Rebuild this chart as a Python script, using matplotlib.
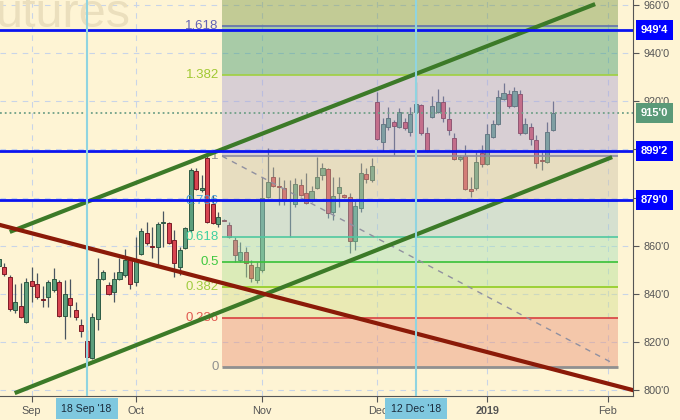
import numpy as np
import matplotlib.pyplot as plt
from matplotlib.transforms import blended_transform_factory

plt.rcParams['font.family'] = ['Liberation Sans', 'DejaVu Sans']

# daily bars, first one is 24 Aug 2018 (bar index -1)
first_bar = -1
opens = [851.5, 851.1, 847.0, 833.2, 834.9, 828.2, 845.3, 844.0, 837.8, 838.6,
         841.5, 844.9, 830.7, 838.2, 833.2, 827.0, 820.3, 813.3, 829.5, 846.1,
         843.6, 840.7, 846.1, 847.8, 854.4, 844.9, 856.5, 865.2, 859.8, 859.4,
         869.4, 869.4, 862.3, 851.1, 859.0, 866.5, 891.0, 883.1, 896.4, 877.3,
         869.0, 870.8, 868.6, 862.3, 854.0, 857.3, 851.9, 845.7, 849.9, 880.2,
         888.5, 884.4, 883.9, 878.5, 877.3, 885.2, 881.9, 878.5, 883.9, 889.3,
         891.8, 874.0, 881.9, 881.0, 880.2, 861.9, 875.6, 889.8, 887.3, 919.7,
         903.1, 909.3, 911.4, 909.3, 911.4, 907.2, 915.5, 918.4, 906.8, 913.5,
         915.5, 919.7, 912.6, 904.7, 896.0, 897.2, 883.5, 883.9, 898.5, 893.9,
         905.1, 910.5, 920.9, 923.0, 918.0, 923.0, 906.8, 909.3, 903.9, 895.4,
         894.7, 908.0]
highs = [856.5, 852.8, 847.8, 844.0, 844.5, 846.5, 851.1, 848.6, 843.2, 845.7,
         850.7, 845.7, 845.7, 846.1, 836.6, 829.5, 824.9, 832.0, 854.8, 849.9,
         844.9, 849.0, 854.8, 858.6, 855.3, 863.6, 867.3, 869.8, 867.7, 869.8,
         874.4, 869.8, 866.5, 859.4, 867.7, 892.3, 892.3, 889.3, 897.2, 881.0,
         874.0, 871.1, 869.8, 863.6, 861.5, 859.4, 854.0, 853.2, 888.5, 900.6,
         892.7, 888.5, 887.3, 887.3, 888.1, 887.7, 890.2, 884.8, 896.8, 894.3,
         892.3, 888.5, 888.5, 881.5, 881.9, 879.0, 894.3, 892.3, 896.4, 923.8,
         913.0, 917.6, 912.2, 917.2, 913.0, 917.6, 928.0, 918.9, 909.3, 922.2,
         925.1, 922.2, 917.6, 906.8, 897.7, 901.8, 888.5, 898.9, 901.8, 910.5,
         912.2, 924.7, 927.6, 924.7, 925.9, 924.7, 913.0, 911.0, 906.0, 899.3,
         911.4, 920.1]
lows = [850.5, 847.4, 832.8, 832.0, 829.9, 828.0, 836.6, 837.8, 834.5, 834.5,
        840.7, 830.3, 821.2, 830.3, 829.1, 822.0, 811.6, 812.9, 824.9, 845.7,
        839.5, 836.6, 845.7, 847.0, 842.0, 843.2, 856.1, 860.3, 854.8, 851.9,
        859.4, 860.7, 847.0, 847.8, 858.6, 865.7, 883.1, 882.3, 869.4, 869.0,
        867.7, 870.2, 863.2, 853.2, 853.2, 847.0, 844.9, 844.5, 849.0, 879.8,
        884.4, 876.9, 876.9, 863.6, 876.0, 880.6, 877.3, 878.1, 883.5, 887.3,
        871.5, 870.6, 876.0, 879.8, 856.9, 858.2, 874.0, 886.0, 886.4, 903.9,
        899.3, 908.0, 897.5, 908.9, 908.0, 905.6, 915.1, 906.0, 898.9, 913.0,
        915.1, 911.4, 906.0, 895.6, 895.2, 883.1, 880.2, 883.1, 892.7, 893.5,
        904.7, 910.1, 920.5, 917.2, 917.6, 906.0, 906.4, 901.8, 892.3, 891.4,
        894.3, 907.6]
closes = [854.5, 848.2, 833.7, 836.6, 830.3, 844.9, 843.2, 838.6, 837.4, 844.9,
          846.1, 830.7, 839.9, 835.3, 830.3, 824.5, 813.7, 830.3, 846.1, 849.0,
          839.9, 846.1, 849.0, 854.0, 844.0, 854.4, 866.1, 861.1, 859.4, 869.0,
          869.8, 861.1, 852.8, 858.2, 867.3, 891.4, 883.5, 883.9, 869.8, 869.4,
          871.9, 870.4, 863.6, 856.1, 857.3, 852.8, 846.5, 851.1, 879.8, 886.4,
          884.8, 884.2, 878.5, 879.4, 885.6, 881.0, 877.7, 882.7, 888.5, 892.3,
          873.6, 880.6, 884.4, 880.2, 861.9, 876.5, 890.2, 887.7, 893.1, 904.3,
          910.5, 913.0, 909.7, 915.5, 908.9, 914.7, 918.9, 906.8, 899.3, 918.0,
          919.7, 913.0, 908.0, 896.0, 896.8, 883.5, 882.9, 894.7, 893.9, 906.4,
          910.5, 921.8, 923.4, 918.0, 924.3, 906.8, 910.5, 904.3, 894.3, 895.2,
          907.2, 915.0]

month_pos = [5, 24, 47, 68, 88, 110]
month_labels = ['Sep', 'Oct', 'Nov', 'Dec', '2019', 'Feb']
marked_pos = [15, 75]
marked_labels = ["18 Sep '18", "12 Dec '18"]

level_prices = [949.5, 899.25, 879.0]
level_labels = ["949'4", "899'2", "879'0"]
last_price = 915.0
last_label = "915'0"

fib_low, fib_high = 809.4, 897.2
fib_ratios = [0, 0.236, 0.382, 0.5, 0.618, 0.786, 1, 1.382, 1.618, 2.2]
fib_start, fib_end = 39.7, 111.9
fib_diag_x, fib_diag_y = [39.7, 111.2], [897.2, 810.8]

upper_x, upper_y = [1.0, 107.7], [865.7, 960.4]
lower_x, lower_y = [1.9, 110.8], [798.7, 896.8]
red_x, red_y = [-0.8, 114.5], [868.6, 800.0]

zone_colors = ['#e89277', '#d2de8d', '#b2e296', '#a5e0b9', '#a5c8cb',
               '#cdc3a8', '#aaa2d4', '#3f9b72', '#79994a']
line_colors = ['#909090', '#d84040', '#90cc20', '#38c038', '#50c8a0',
               '#5090d0', '#8c8ca0', '#a0d040', '#6070b0']
label_colors = ['#909090', '#e05a50', '#a0cc40', '#40c840', '#40d0a0',
                '#4aa0dc', '#909090', '#a0c832', '#6464b4']

fig = plt.figure(figsize=(6.8, 4.2), dpi=100, facecolor='#fef4d4')
ax = fig.add_axes([0, 24 / 420, 633 / 680, 396 / 420])
ax.set_facecolor('#fef4d4')
ax.set_xlim(-0.78, 114.6)
ax.set_ylim(797.5, 962.1)

ax.grid(True, ls=(0, (5, 5)), color='#c8d4e8', lw=0.8)
ax.set_axisbelow(True)

# candles
x = np.arange(len(opens)) + first_bar
o, h, l, c = map(np.array, (opens, highs, lows, closes))
up = c >= o
lo = np.minimum(o, c)
hgt = np.maximum(np.abs(c - o), 0.45)
ax.vlines(x, l, h, color='#4a5560', lw=0.9, zorder=2)
ax.bar(x[up], hgt[up], bottom=lo[up], width=0.74, color='#5c9e7c',
       edgecolor='#2e5a44', lw=0.7, zorder=3)
ax.bar(x[~up], hgt[~up], bottom=lo[~up], width=0.74, color='#d84450',
       edgecolor='#7a1c26', lw=0.7, zorder=3)

# fibonacci zones
rng = fib_high - fib_low
fib_prices = [fib_low + r * rng for r in fib_ratios]
for i in range(len(zone_colors)):
    ax.fill_between([fib_start, fib_end], fib_prices[i], fib_prices[i + 1],
                    color=zone_colors[i], alpha=0.45, lw=0, zorder=4)
for i in range(len(line_colors)):
    ax.hlines(fib_prices[i], fib_start, fib_end, colors=line_colors[i],
              lw=2 if i == 0 else 1.2, zorder=5)
    ax.text(fib_start - 0.6, fib_prices[i], f'{fib_ratios[i]:g}', ha='right',
            va='center', color=label_colors[i], fontsize=9.5, zorder=5)
ax.plot(fib_diag_x, fib_diag_y, ls=(0, (4, 4)), color='#9090a0', lw=1, zorder=5)

ax.axhline(last_price, color='#70a088', ls=':', lw=1.3, zorder=5)

# trend lines
ax.plot(upper_x, upper_y, color='#3c7a28', lw=3, solid_capstyle='butt', zorder=7)
ax.plot(lower_x, lower_y, color='#3c7a28', lw=3, solid_capstyle='butt', zorder=7)
ax.plot(red_x, red_y, color='#8b1a08', lw=3, zorder=7)

for p in level_prices:
    ax.axhline(p, color='#0a14f0', lw=2, zorder=8)
for p in marked_pos:
    ax.axvline(p, color='#90d4e0', lw=1.5, zorder=8)

# watermark
ax.text(-0.006, 1 - 27 / 396, 'utures', transform=ax.transAxes, fontsize=35,
        color='#ebdfbd', va='baseline', ha='left', zorder=1)

# axes styling
for s in ['left', 'top']:
    ax.spines[s].set_visible(False)
for s in ['right', 'bottom']:
    ax.spines[s].set_color('#555555')
ax.yaxis.tick_right()
yt = np.arange(800, 961, 20)
ax.set_yticks(yt)
# 900 and 880 sit under the level boxes
ax.set_yticklabels(['' if v in (880, 900) else f"{v}'0" for v in yt])
ax.set_xticks(month_pos)
ax.set_xticklabels(month_labels)
ax.get_xticklabels()[4].set_fontweight('bold')
ax.tick_params(colors='#555555', labelsize=7.8, length=4)

tr = blended_transform_factory(ax.transAxes, ax.transData)
for p, lab in zip(level_prices, level_labels):
    ax.text(1.012, p, lab, transform=tr, color='white', fontweight='bold',
            fontsize=8, va='center', ha='left', clip_on=False,
            bbox=dict(boxstyle='square,pad=0.45', fc='#0000ff', ec='none'))
ax.text(1.012, last_price, last_label, transform=tr, color='white',
        fontweight='bold', fontsize=8, va='center', ha='left', clip_on=False,
        bbox=dict(boxstyle='square,pad=0.45', fc='#5a9a78', ec='none'))

trx = blended_transform_factory(ax.transData, ax.transAxes)
for p, lab in zip(marked_pos, marked_labels):
    ax.text(p, -0.032, lab, transform=trx, color='#1a2a3a', fontsize=7.6,
            va='center', ha='center', clip_on=False, zorder=10,
            bbox=dict(boxstyle='square,pad=0.55', fc='#7fc8df', ec='none'))

fig.savefig('out.png', dpi=100, facecolor=fig.get_facecolor())
